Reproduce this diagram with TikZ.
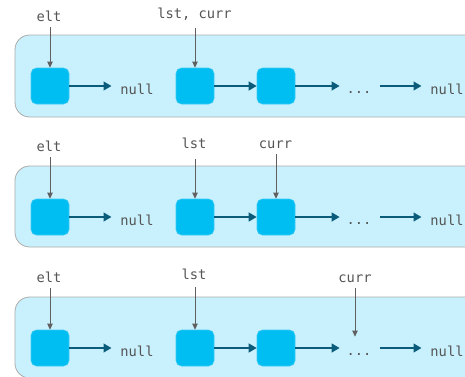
\documentclass[tikz,border=0pt]{standalone}
\usepackage{fontspec}
\setmonofont{DejaVu Sans Mono}
\usetikzlibrary{arrows.meta}
\definecolor{panelfill}{HTML}{C9F1FD}
\definecolor{panelline}{HTML}{ABABAB}
\definecolor{cellfill}{HTML}{00BDF2}
\definecolor{cellline}{HTML}{3CCBF5}
\definecolor{linkcol}{HTML}{0B5C7A}
\definecolor{ptrcol}{HTML}{606060}
\definecolor{txtcol}{HTML}{555555}
\tikzset{
  panel/.style={fill=panelfill, draw=panelline, line width=0.6pt, rounded corners=11pt},
  cell/.style={rectangle, fill=cellfill, draw=cellline, line width=0.4pt,
    rounded corners=4pt, minimum width=28.5pt, minimum height=27pt, inner sep=0pt},
  word/.style={font=\ttfamily\fontsize{10.3}{12}\selectfont, text=txtcol, inner sep=0pt, anchor=base},
  lbl/.style={word, inner xsep=0pt, inner ysep=4.5pt, text depth=0pt},
  link/.style={draw=linkcol, line width=1.5pt, -{Triangle[length=6pt,width=6.5pt]}},
  ptr/.style={draw=ptrcol, line width=0.75pt, -{Triangle[length=4.5pt,width=4pt]}}
}
\begin{document}
\begin{tikzpicture}[x=0.75pt, y=-0.75pt]
\useasboundingbox (0,0) rectangle (465,376);
\clip (0,0) rectangle (465,376);

% three snapshots of the list, top to bottom
\foreach \r/\top/\bot in {1/35/117, 2/166/247, 3/297/378}{
  \fill[panel] (15,\top) rectangle (500,\bot);
}

% ---- row 1: elt -> null, lst = curr at the head
\begin{scope}
\def\ry{86}
\node[cell] (a1) at (50,\ry) {};
\node[word] (an1) at (137,\ry+8) {null};
\node[cell] (b1) at (195,\ry) {};
\node[cell] (c1) at (276,\ry) {};
\node[word] (d1) at (359,\ry+7) {...};
\node[word] (e1) at (447,\ry+8) {null};
\draw[link] (a1.east) -- ([xshift=-6.5pt]an1.west |- a1.east);
\draw[link] (b1) -- (c1);
\draw[link] (c1.east) -- ([xshift=-5pt]d1.west |- c1.east);
\draw[link] ([xshift=6.5pt]d1.east |- c1.east) -- ([xshift=-6.5pt]e1.west |- c1.east);
\node[lbl] (p1) at (49,21) {elt};
\node[lbl, inner ysep=7pt] (q1) at (194.5,18) {lst, curr};
\draw[ptr] (a1.north |- p1.south) -- (a1.north);
\draw[ptr] (b1.north |- q1.south) -- (b1.north);
\end{scope}

% ---- row 2: curr has moved one cell on
\begin{scope}
\def\ry{217}
\node[cell] (a2) at (50,\ry) {};
\node[word] (an2) at (137,\ry+8) {null};
\node[cell] (b2) at (195,\ry) {};
\node[cell] (c2) at (276,\ry) {};
\node[word] (d2) at (359,\ry+7) {...};
\node[word] (e2) at (447,\ry+8) {null};
\draw[link] (a2.east) -- ([xshift=-6.5pt]an2.west |- a2.east);
\draw[link] (b2) -- (c2);
\draw[link] (c2.east) -- ([xshift=-5pt]d2.west |- c2.east);
\draw[link] ([xshift=6.5pt]d2.east |- c2.east) -- ([xshift=-6.5pt]e2.west |- c2.east);
\node[lbl] (p2) at (49,151) {elt};
\node[lbl, inner ysep=8pt] (q2) at (194,148) {lst};
\node[lbl] (r2) at (275.5,148) {curr};
\draw[ptr] (a2.north |- p2.south) -- (a2.north);
\draw[ptr] (b2.north |- q2.south) -- (b2.north);
\draw[ptr] (c2.north |- r2.south) -- (c2.north);
\end{scope}

% ---- row 3: curr walks further along the list
\begin{scope}
\def\ry{348}
\node[cell] (a3) at (50,\ry) {};
\node[word] (an3) at (137,\ry+8) {null};
\node[cell] (b3) at (195,\ry) {};
\node[cell] (c3) at (276,\ry) {};
\node[word] (d3) at (359,\ry+7) {...};
\node[word] (e3) at (447,\ry+8) {null};
\draw[link] (a3.east) -- ([xshift=-6.5pt]an3.west |- a3.east);
\draw[link] (b3) -- (c3);
\draw[link] (c3.east) -- ([xshift=-5pt]d3.west |- c3.east);
\draw[link] ([xshift=6.5pt]d3.east |- c3.east) -- ([xshift=-6.5pt]e3.west |- c3.east);
\node[lbl] (p3) at (49,282) {elt};
\node[lbl, inner ysep=6pt] (q3) at (194,279) {lst};
\node[lbl] (r3) at (355,282) {curr};
\draw[ptr] (a3.north |- p3.south) -- (a3.north);
\draw[ptr] (b3.north |- q3.south) -- (b3.north);
\draw[ptr] (r3.south) -- ([yshift=12pt]r3.south |- d3.north);
\end{scope}
\end{tikzpicture}
\end{document}
